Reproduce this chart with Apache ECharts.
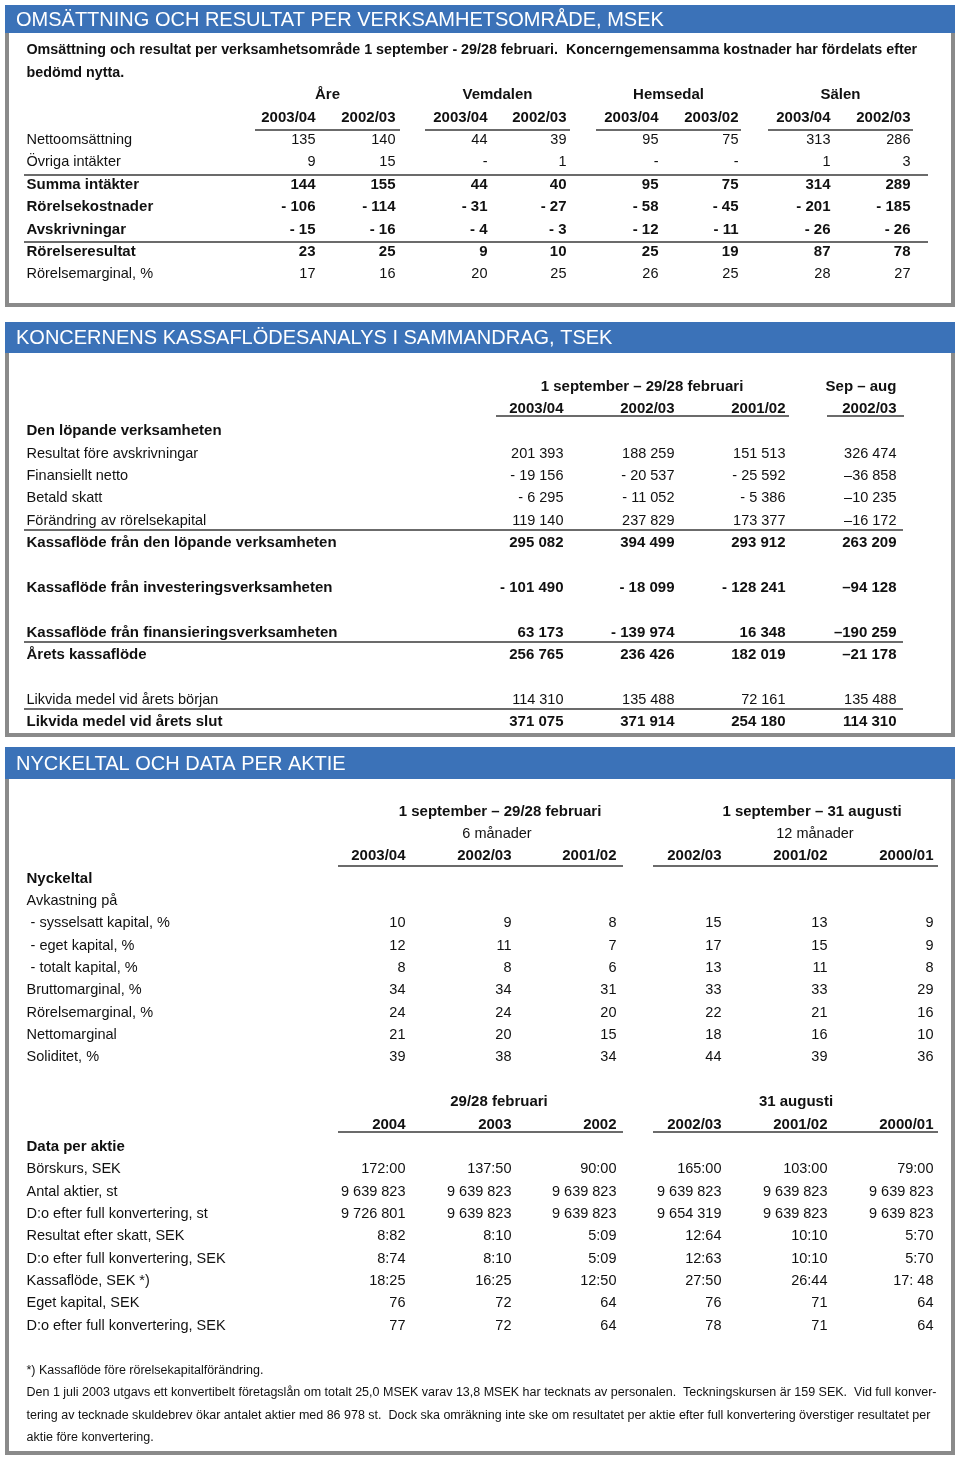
<!DOCTYPE html>
<html><head><meta charset="utf-8">
<script src="https://cdn.jsdelivr.net/npm/echarts@6/dist/echarts.min.js"></script>
<style>html,body{margin:0;padding:0;background:#fff}#c{width:960px;height:1457px}</style>
</head><body><div id="c"></div>
<script>
// ================= DATA =================
const sectionTitles = [
  'OMSÄTTNING OCH RESULTAT PER VERKSAMHETSOMRÅDE, MSEK',
  'KONCERNENS KASSAFLÖDESANALYS I SAMMANDRAG, TSEK',
  'NYCKELTAL OCH DATA PER AKTIE'
];

// Table 1
const t1Intro = [
  'Omsättning och resultat per verksamhetsområde 1 september - 29/28 februari.  Koncerngemensamma kostnader har fördelats efter',
  'bedömd nytta.'
];
const t1Areas = ['Åre', 'Vemdalen', 'Hemsedal', 'Sälen'];
const t1Periods = ['2003/04', '2002/03', '2003/04', '2002/03', '2003/04', '2003/02', '2003/04', '2002/03'];
const t1Rows = ['Nettoomsättning', 'Övriga intäkter', 'Summa intäkter', 'Rörelsekostnader', 'Avskrivningar', 'Rörelseresultat', 'Rörelsemarginal, %'];
const t1Values = [
  [135, 140, 44, 39, 95, 75, 313, 286],
  [9, 15, null, 1, null, null, 1, 3],
  [144, 155, 44, 40, 95, 75, 314, 289],
  [-106, -114, -31, -27, -58, -45, -201, -185],
  [-15, -16, -4, -3, -12, -11, -26, -26],
  [23, 25, 9, 10, 25, 19, 87, 78],
  [17, 16, 20, 25, 26, 25, 28, 27]
];
const t1Bold = ['Summa intäkter', 'Rörelsekostnader', 'Avskrivningar', 'Rörelseresultat'];

// Table 2
const t2Groups = ['1 september – 29/28 februari', 'Sep – aug'];
const t2Periods = ['2003/04', '2002/03', '2001/02', '2002/03'];
const t2Rows = [
  'Den löpande verksamheten', 'Resultat före avskrivningar', 'Finansiellt netto', 'Betald skatt',
  'Förändring av rörelsekapital', 'Kassaflöde från den löpande verksamheten', '',
  'Kassaflöde från investeringsverksamheten', '', 'Kassaflöde från finansieringsverksamheten',
  'Årets kassaflöde', '', 'Likvida medel vid årets början', 'Likvida medel vid årets slut'
];
const t2Values = [
  null,
  [201393, 188259, 151513, 326474],
  [-19156, -20537, -25592, -36858],
  [-6295, -11052, -5386, -10235],
  [119140, 237829, 173377, -16172],
  [295082, 394499, 293912, 263209],
  null,
  [-101490, -18099, -128241, -94128],
  null,
  [63173, -139974, 16348, -190259],
  [256765, 236426, 182019, -21178],
  null,
  [114310, 135488, 72161, 135488],
  [371075, 371914, 254180, 114310]
];
const t2Bold = ['Den löpande verksamheten', 'Kassaflöde från den löpande verksamheten', 'Kassaflöde från investeringsverksamheten',
  'Kassaflöde från finansieringsverksamheten', 'Årets kassaflöde', 'Likvida medel vid årets slut'];

// Table 3 (key ratios)
const t3Groups = ['1 september – 29/28 februari', '1 september – 31 augusti'];
const t3Durations = ['6 månader', '12 månader'];
const t3Periods = ['2003/04', '2002/03', '2001/02', '2002/03', '2001/02', '2000/01'];
const t3Rows = ['Nyckeltal', 'Avkastning på', ' - sysselsatt kapital, %', ' - eget kapital, %', ' - totalt kapital, %',
  'Bruttomarginal, %', 'Rörelsemarginal, %', 'Nettomarginal', 'Soliditet, %'];
const t3Values = [
  null, null,
  [10, 9, 8, 15, 13, 9],
  [12, 11, 7, 17, 15, 9],
  [8, 8, 6, 13, 11, 8],
  [34, 34, 31, 33, 33, 29],
  [24, 24, 20, 22, 21, 16],
  [21, 20, 15, 18, 16, 10],
  [39, 38, 34, 44, 39, 36]
];
const t3Bold = ['Nyckeltal'];

// Table 4 (data per share)
const t4Groups = ['29/28 februari', '31 augusti'];
const t4Periods = ['2004', '2003', '2002', '2002/03', '2001/02', '2000/01'];
const t4Rows = ['Data per aktie', 'Börskurs, SEK', 'Antal aktier, st', 'D:o efter full konvertering, st',
  'Resultat efter skatt, SEK', 'D:o efter full konvertering, SEK', 'Kassaflöde, SEK *)', 'Eget kapital, SEK',
  'D:o efter full konvertering, SEK'];
const t4Values = [
  null,
  ['172:00', '137:50', '90:00', '165:00', '103:00', '79:00'],
  ['9 639 823', '9 639 823', '9 639 823', '9 639 823', '9 639 823', '9 639 823'],
  ['9 726 801', '9 639 823', '9 639 823', '9 654 319', '9 639 823', '9 639 823'],
  ['8:82', '8:10', '5:09', '12:64', '10:10', '5:70'],
  ['8:74', '8:10', '5:09', '12:63', '10:10', '5:70'],
  ['18:25', '16:25', '12:50', '27:50', '26:44', '17: 48'],
  ['76', '72', '64', '76', '71', '64'],
  ['77', '72', '64', '78', '71', '64']
];
const t4Bold = ['Data per aktie'];

const footnotes = [
  '*) Kassaflöde före rörelsekapitalförändring.',
  'Den 1 juli 2003 utgavs ett konvertibelt företagslån om totalt 25,0 MSEK varav 13,8 MSEK har tecknats av personalen.  Teckningskursen är 159 SEK.  Vid full konver-',
  'tering av tecknade skuldebrev ökar antalet aktier med 86 978 st.  Dock ska omräkning inte ske om resultatet per aktie efter full konvertering överstiger resultatet per',
  'aktie före konvertering.'
];

// ================= LAYOUT / STYLE =================
const FONT = '"Liberation Sans", Arial, Helvetica, sans-serif';
const REG = 14.5, BOLD = 15, INTRO = 14.3, NOTE = 12.5;
const TEXT = '#111111', BLUE = '#3b72b8', GRAY = '#8a8a8a', RULE = '#3a3a3a';
const ROW = 22.36;
const LABEL_X = 26;
const boxes = [
  { top: 5, head: 28, bottom: 307 },
  { top: 322, head: 31, bottom: 737 },
  { top: 747, head: 32, bottom: 1455 }
];
const L1 = { y0: 50.5, rows: 11, cols: [316, 396, 488, 567, 659, 739, 831, 911],
  spans: [[255, 400], [425, 570], [596, 741], [768, 913]], full: [24, 928], off: 0.56, headOff: 0.56 };
const L2 = { y0: 386.5, rows: 16, cols: [564, 675, 786, 897],
  spans: [[496, 789], [827, 904]], centers: [642, 861], full: [24, 903], off: 0.40, headOff: 0.32, neg: ['- ', '- ', '- ', '–'] };
const L3 = { y0: 811.5, rows: 29, cols: [406, 512, 617, 722, 828, 934],
  spans: [[338, 623], [653, 938]], centers: [500, 812], durCenters: [497, 815], centers2: [499, 796], headOff: [0.42, 0.34] };

// ================= BUILD =================
const option = { animation: false, grid: [], xAxis: [], yAxis: [], series: [], graphic: [] };

function addGrid(y0, rows) {
  const k = option.grid.length;
  option.grid.push({ left: 0, right: 0, top: y0 - ROW / 2, height: rows * ROW });
  option.xAxis.push({ type: 'value', gridIndex: k, min: 0, max: 960, show: false });
  option.yAxis.push({ type: 'value', gridIndex: k, min: -0.5, max: rows - 0.5, inverse: true, show: false });
  return k;
}
function cell(x, row, text, align, bold, size) {
  const pos = align === 'left' ? 'right' : align === 'right' ? 'left' : 'inside';
  return { value: [x, row], label: { position: pos, formatter: text,
    fontWeight: bold ? 'bold' : 'normal', fontSize: size || (bold ? BOLD : REG) } };
}
function addSeries(k, items, lines) {
  option.series.push({
    type: 'scatter', xAxisIndex: k, yAxisIndex: k, symbolSize: 1, silent: true, clip: false,
    itemStyle: { color: 'rgba(0,0,0,0)', opacity: 1 },
    label: { show: true, distance: 0, color: TEXT, opacity: 1, fontFamily: FONT },
    data: items,
    markLine: {
      silent: true, symbol: ['none', 'none'], label: { show: false },
      lineStyle: { color: RULE, width: 1.6, type: 'solid', opacity: 1 },
      emphasis: { disabled: true },
      data: lines.map(l => [{ coord: [l[0], l[2]] }, { coord: [l[1], l[2]] }])
    }
  });
}
const thousands = n => String(Math.abs(n)).replace(/\B(?=(\d{3})+(?!\d))/g, ' ');

// ---- Table 1 ----
(function () {
  const k = addGrid(L1.y0, L1.rows);
  const items = [], lines = [];
  t1Intro.forEach((t, i) => items.push(cell(LABEL_X, i, t, 'left', true, INTRO)));
  t1Areas.forEach((a, i) => items.push(cell((L1.spans[i][0] + L1.spans[i][1]) / 2, 2, a, 'center', true)));
  t1Periods.forEach((p, j) => items.push(cell(L1.cols[j], 3, p, 'right', true)));
  L1.spans.forEach(s => lines.push([s[0], s[1], 3 + L1.headOff]));
  t1Rows.forEach((r, i) => {
    const row = 4 + i, b = t1Bold.includes(r);
    items.push(cell(LABEL_X, row, r, 'left', b));
    t1Values[i].forEach((v, j) => {
      const txt = v == null ? '-' : v < 0 ? '- ' + (-v) : String(v);
      items.push(cell(L1.cols[j], row, txt, 'right', b));
    });
  });
  lines.push([L1.full[0], L1.full[1], 5 + L1.off]);
  lines.push([L1.full[0], L1.full[1], 8 + L1.off]);
  addSeries(k, items, lines);
})();

// ---- Table 2 ----
(function () {
  const k = addGrid(L2.y0, L2.rows);
  const items = [], lines = [];
  t2Groups.forEach((g, i) => items.push(cell(L2.centers[i], 0, g, 'center', true)));
  t2Periods.forEach((p, j) => items.push(cell(L2.cols[j], 1, p, 'right', true)));
  L2.spans.forEach(s => lines.push([s[0], s[1], 1 + L2.headOff]));
  t2Rows.forEach((r, i) => {
    const row = 2 + i, b = t2Bold.includes(r);
    if (r) items.push(cell(LABEL_X, row, r, 'left', b));
    if (t2Values[i]) t2Values[i].forEach((v, j) => {
      const txt = v < 0 ? L2.neg[j] + thousands(v) : thousands(v);
      items.push(cell(L2.cols[j], row, txt, 'right', b));
    });
  });
  [6, 11, 14].forEach(r => lines.push([L2.full[0], L2.full[1], r + L2.off]));
  addSeries(k, items, lines);
})();

// ---- Table 3 + 4 + notes ----
(function () {
  const k = addGrid(L3.y0, L3.rows);
  const items = [], lines = [];
  t3Groups.forEach((g, i) => items.push(cell(L3.centers[i], 0, g, 'center', true)));
  t3Durations.forEach((d, i) => items.push(cell(L3.durCenters[i], 1, d, 'center', false)));
  t3Periods.forEach((p, j) => items.push(cell(L3.cols[j], 2, p, 'right', true)));
  L3.spans.forEach(s => lines.push([s[0], s[1], 2 + L3.headOff[0]]));
  t3Rows.forEach((r, i) => {
    const row = 3 + i, b = t3Bold.includes(r);
    items.push(cell(LABEL_X, row, r, 'left', b));
    if (t3Values[i]) t3Values[i].forEach((v, j) => items.push(cell(L3.cols[j], row, String(v), 'right', b)));
  });
  t4Groups.forEach((g, i) => items.push(cell(L3.centers2[i], 13, g, 'center', true)));
  t4Periods.forEach((p, j) => items.push(cell(L3.cols[j], 14, p, 'right', true)));
  L3.spans.forEach(s => lines.push([s[0], s[1], 14 + L3.headOff[1]]));
  t4Rows.forEach((r, i) => {
    const row = 15 + i, b = t4Bold.includes(r);
    items.push(cell(LABEL_X, row, r, 'left', b));
    if (t4Values[i]) t4Values[i].forEach((v, j) => items.push(cell(L3.cols[j], row, v, 'right', b)));
  });
  footnotes.forEach((f, i) => items.push(cell(LABEL_X, 25 + i, f, 'left', false, NOTE)));
  addSeries(k, items, lines);
})();

// ---- Section frames and headers ----
boxes.forEach((b, i) => {
  const g = option.graphic;
  g.push({ type: 'rect', silent: true, shape: { x: 5, y: b.top + b.head, width: 4, height: b.bottom - b.top - b.head }, style: { fill: GRAY } });
  g.push({ type: 'rect', silent: true, shape: { x: 951, y: b.top + b.head, width: 4, height: b.bottom - b.top - b.head }, style: { fill: GRAY } });
  g.push({ type: 'rect', silent: true, shape: { x: 5, y: b.bottom - 4, width: 950, height: 4 }, style: { fill: GRAY } });
  g.push({ type: 'rect', silent: true, shape: { x: 5, y: b.top, width: 950, height: b.head }, style: { fill: BLUE } });
  g.push({ type: 'text', silent: true, x: 16, y: b.top + b.head / 2 + 1,
    style: { text: sectionTitles[i], fill: '#ffffff', fontSize: 20, fontFamily: FONT, align: 'left', verticalAlign: 'middle' } });
});

const chart = echarts.init(document.getElementById('c'), null, { renderer: 'canvas' });
chart.setOption(option);
</script></body></html>
